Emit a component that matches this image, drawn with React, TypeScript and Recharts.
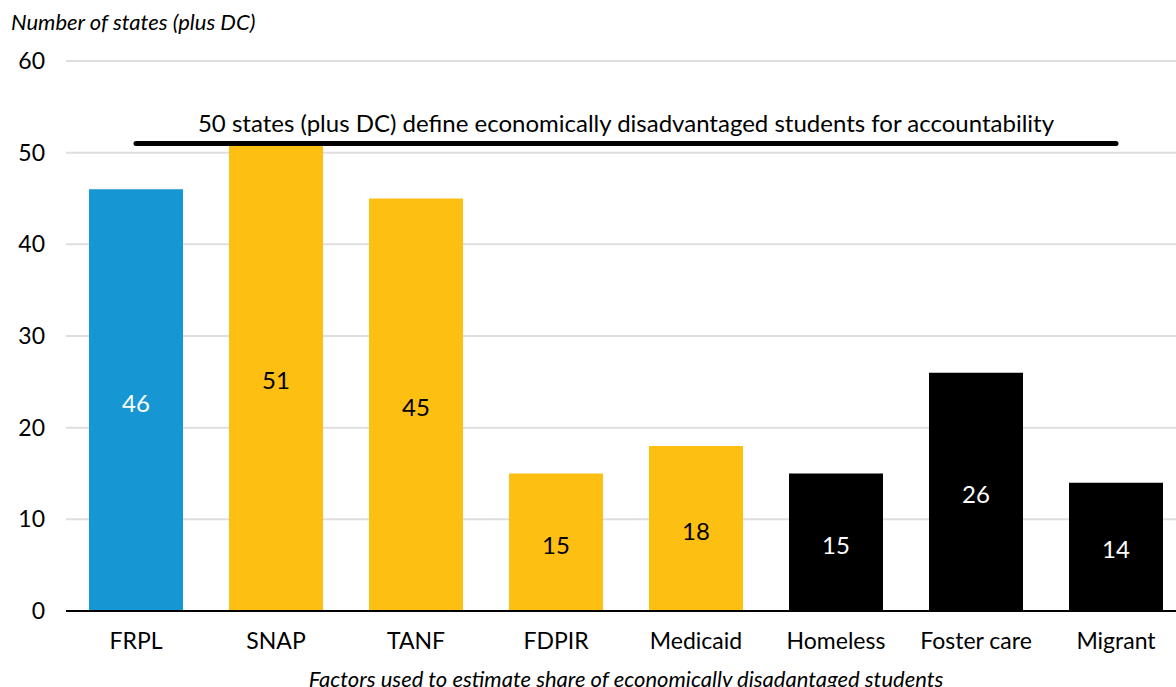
import React from 'react';
import { BarChart, Bar, XAxis, YAxis, CartesianGrid, ReferenceLine, Cell, LabelList } from 'recharts';

const categories = ['FRPL', 'SNAP', 'TANF', 'FDPIR', 'Medicaid', 'Homeless', 'Foster care', 'Migrant'];
const stateCounts = [46, 51, 45, 15, 18, 15, 26, 14];
const barColors = ['#1696d2', '#fdbf11', '#fdbf11', '#fdbf11', '#fdbf11', '#000000', '#000000', '#000000'];
const labelColors = ['#ffffff', '#000000', '#000000', '#000000', '#000000', '#ffffff', '#ffffff', '#ffffff'];
const yTicks = [0, 10, 20, 30, 40, 50, 60];
const referenceValue = 51;
const referenceText = '50 states (plus DC) define economically disadvantaged students for accountability';
const yTitle = 'Number of states (plus DC)';
const xTitle = 'Factors used to estimate share of economically disadantaged students';

const data = categories.map((name, i) => ({ name, value: stateCounts[i] }));

const FONT = 'Lato, "Open Sans", sans-serif';

const renderValueLabel = (props: any) => {
  const { x, y, width, height, value, index } = props;
  return (
    <text
      x={x + width / 2}
      y={y + height / 2 + 2}
      textAnchor="middle"
      dominantBaseline="central"
      fill={labelColors[index]}
      fontSize={24}
      fontFamily={FONT}
    >
      {value}
    </text>
  );
};

export default function App() {
  return (
    <div style={{ position: 'absolute', left: 0, top: 0, width: 1176, height: 687, overflow: 'hidden', background: '#fff', fontFamily: FONT }}>
      <div style={{ position: 'absolute', left: 11, top: 9, fontSize: 22, fontStyle: 'italic', color: '#000', whiteSpace: 'nowrap', lineHeight: '26px' }}>
        {yTitle}
      </div>
      <BarChart
        width={1200}
        height={687}
        data={data}
        margin={{ top: 61, right: 14, left: 0, bottom: 0 }}
        barSize={94}
        style={{ fontFamily: FONT }}
      >
        <CartesianGrid vertical={false} stroke="#dedede" strokeWidth={2} />
        <XAxis
          dataKey="name"
          height={76}
          tickLine={false}
          tickSize={0}
          tickMargin={22}
          axisLine={{ stroke: '#000', strokeWidth: 2 }}
          tick={{ fill: '#000', fontSize: 23, fontFamily: FONT }}
          interval={0}
          label={{ value: xTitle, position: 'insideBottom', offset: 0, fill: '#000', fontSize: 22, fontStyle: 'italic', fontFamily: FONT }}
        />
        <YAxis
          width={66}
          domain={[0, 60]}
          ticks={yTicks}
          axisLine={false}
          tickLine={false}
          tickSize={0}
          tickMargin={21}
          tick={{ fill: '#000', fontSize: 23, fontFamily: FONT }}
        />
        <Bar dataKey="value" isAnimationActive={false}>
          {data.map((d, i) => (
            <Cell key={d.name} fill={barColors[i]} />
          ))}
          <LabelList dataKey="value" content={renderValueLabel} />
        </Bar>
        <ReferenceLine
          segment={[{ x: categories[0], y: referenceValue }, { x: categories[categories.length - 1], y: referenceValue }]}
          stroke="#000"
          strokeWidth={5}
          strokeLinecap="round"
          label={{ value: referenceText, position: 'top', offset: 12, fill: '#000', fontSize: 24, fontFamily: FONT }}
        />
      </BarChart>
    </div>
  );
}
